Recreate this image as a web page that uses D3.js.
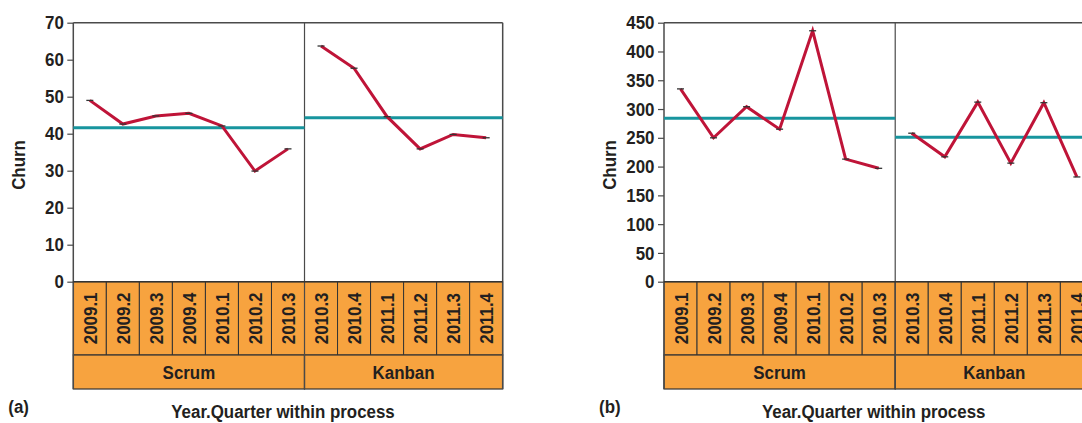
<!DOCTYPE html>
<html>
<head>
<meta charset="utf-8">
<script src="https://cdn.jsdelivr.net/npm/d3@7"></script>
<style>
  html, body { margin: 0; padding: 0; background: #fff; }
  svg { display: block; }
  text { font-family: "Liberation Sans", Arial, sans-serif; font-weight: bold; fill: #231f20; }
</style>
</head>
<body>
<svg id="chart" width="1082" height="423"></svg>
<script>
// ---- data ----
const processes = ["Scrum", "Kanban"];
const scrumQuarters = ["2009.1", "2009.2", "2009.3", "2009.4", "2010.1", "2010.2", "2010.3"];
const kanbanQuarters = ["2010.3", "2010.4", "2011.1", "2011.2", "2011.3", "2011.4"];

const churnAScrum = [49.0, 42.6, 44.8, 45.5, 42.1, 29.9, 35.9];
const churnAKanban = [63.7, 57.7, 44.6, 35.9, 39.8, 38.9];
const centerA = [41.6, 44.3];
const ticksA = [0, 10, 20, 30, 40, 50, 60, 70];

const churnBScrum = [335, 250, 304, 265, 436, 213, 197];
const churnBKanban = [258, 217, 312, 206, 311, 182];
const centerB = [284, 251];
const ticksB = [0, 50, 100, 150, 200, 250, 300, 350, 400, 450];

const panelLabels = ["(a)", "(b)"];
const yTitle = "Churn";
const xTitle = "Year.Quarter within process";

// ---- style ----
const ORANGE = "#f7a33f";
const RED = "#bf1438";
const TEAL = "#17959e";
const FRAME = "#4a4a4a";
const FONT = 19;
const SX = 0.89;           // horizontal condensing of the bold face
const FAMILY = '"Liberation Sans", Arial, sans-serif';

const svg = d3.select("#chart");

function panel(opts) {
  const { x0, yMax, ticks, scrum, kanban, center, label } = opts;
  const top = 22.7, base = 281.7, catBottom = 355, procBottom = 389;
  const bw = 33.03;
  const n = scrumQuarters.length + kanbanQuarters.length;
  const keys = d3.range(n);
  const labels = scrumQuarters.concat(kanbanQuarters);
  const procOf = keys.map(i => i < scrumQuarters.length ? 0 : 1);

  const x = d3.scaleBand().domain(keys).range([x0, x0 + bw * n]).padding(0);
  const y = d3.scaleLinear().domain([0, yMax]).range([base, top]);

  const g = svg.append("g");

  // category strip
  g.selectAll("rect.cat").data(keys).enter().append("rect")
    .attr("x", d => x(d)).attr("y", base)
    .attr("width", x.bandwidth()).attr("height", catBottom - base)
    .attr("fill", ORANGE).attr("stroke", "#333").attr("stroke-width", 1);
  g.selectAll("text.cat").data(keys).enter().append("text")
    .attr("transform", d => `translate(${x(d) + x.bandwidth() / 2 + 7.2},${(base + catBottom) / 2}) rotate(-90) scale(${SX},1)`)
    .attr("text-anchor", "middle")
    .attr("font-size", FONT)
    .text(d => labels[d]);

  // process strip
  const groups = processes.map((p, i) => {
    const idx = keys.filter(k => procOf[k] === i);
    const gx0 = x(idx[0]), gx1 = x(idx[idx.length - 1]) + x.bandwidth();
    return { name: p, i, idx, gx0, gx1 };
  });
  g.selectAll("rect.proc").data(groups).enter().append("rect")
    .attr("x", d => d.gx0).attr("y", catBottom)
    .attr("width", d => d.gx1 - d.gx0).attr("height", procBottom - catBottom)
    .attr("fill", ORANGE).attr("stroke", "#333").attr("stroke-width", 1.2);
  g.selectAll("text.proc").data(groups).enter().append("text")
    .attr("transform", d => `translate(${(d.gx0 + d.gx1) / 2},${(catBottom + procBottom) / 2 + 7}) scale(${SX},1)`)
    .attr("text-anchor", "middle").attr("font-size", FONT)
    .text(d => d.name);

  // frame
  const xEnd = x0 + bw * n;
  g.append("line").attr("x1", x0).attr("x2", xEnd).attr("y1", top).attr("y2", top)
    .attr("stroke", FRAME).attr("stroke-width", 1.5);
  g.append("line").attr("x1", x0).attr("x2", x0).attr("y1", top).attr("y2", procBottom)
    .attr("stroke", FRAME).attr("stroke-width", 1.5);
  g.append("line").attr("x1", xEnd).attr("x2", xEnd).attr("y1", top).attr("y2", procBottom)
    .attr("stroke", FRAME).attr("stroke-width", 1.5);
  g.append("line").attr("x1", groups[1].gx0).attr("x2", groups[1].gx0).attr("y1", top).attr("y2", procBottom)
    .attr("stroke", FRAME).attr("stroke-width", 1.2);
  g.append("line").attr("x1", x0).attr("x2", xEnd).attr("y1", base).attr("y2", base)
    .attr("stroke", "#333").attr("stroke-width", 1.5);

  // y axis
  const ax = g.append("g").attr("transform", `translate(${x0},0)`)
    .call(d3.axisLeft(y).tickValues(ticks).tickSize(6).tickPadding(3));
  ax.select(".domain").remove();
  ax.selectAll(".tick line").attr("stroke", FRAME).attr("stroke-width", 1.2);
  ax.selectAll(".tick text").attr("font-size", FONT).attr("fill", "#231f20")
    .attr("font-family", FAMILY).attr("font-weight", "bold")
    .attr("x", -9.5 / SX).attr("transform", `scale(${SX},1)`);

  // center lines
  g.selectAll("line.center").data(groups).enter().append("line")
    .attr("x1", d => d.gx0).attr("x2", d => d.gx1)
    .attr("y1", d => y(center[d.i])).attr("y2", d => y(center[d.i]))
    .attr("stroke", TEAL).attr("stroke-width", 3);

  // series lines
  const series = [scrum, kanban];
  const line = d3.line().x(d => d[0]).y(d => d[1]);
  groups.forEach(gr => {
    const pts = gr.idx.map((k, j) => [x(k) + x.bandwidth() / 2, y(series[gr.i][j])]);
    g.append("path").attr("d", line(pts)).attr("fill", "none")
      .attr("stroke", RED).attr("stroke-width", 3).attr("stroke-linejoin", "miter");
    g.selectAll(null).data(pts).enter().append("line")
      .attr("x1", d => d[0] - 3.5).attr("x2", d => d[0] + 3.5)
      .attr("y1", d => d[1]).attr("y2", d => d[1])
      .attr("stroke", "#333").attr("stroke-width", 1.3);
  });

  // titles
  g.append("text")
    .attr("transform", `translate(${x0 - 48},165) rotate(-90) scale(${SX},1)`)
    .attr("text-anchor", "middle").attr("font-size", FONT)
    .text(yTitle);
  g.append("text")
    .attr("transform", `translate(${x0 + bw * n / 2 - 5},418) scale(${SX},1)`)
    .attr("text-anchor", "middle").attr("font-size", FONT)
    .text(xTitle);
  g.append("text")
    .attr("transform", `translate(${x0 - 65},413) scale(${SX},1)`)
    .attr("font-size", FONT)
    .text(label);
}

panel({ x0: 73.3, yMax: 70, ticks: ticksA, scrum: churnAScrum, kanban: churnAKanban, center: centerA, label: panelLabels[0] });
panel({ x0: 664, yMax: 450, ticks: ticksB, scrum: churnBScrum, kanban: churnBKanban, center: centerB, label: panelLabels[1] });
</script>
</body>
</html>
